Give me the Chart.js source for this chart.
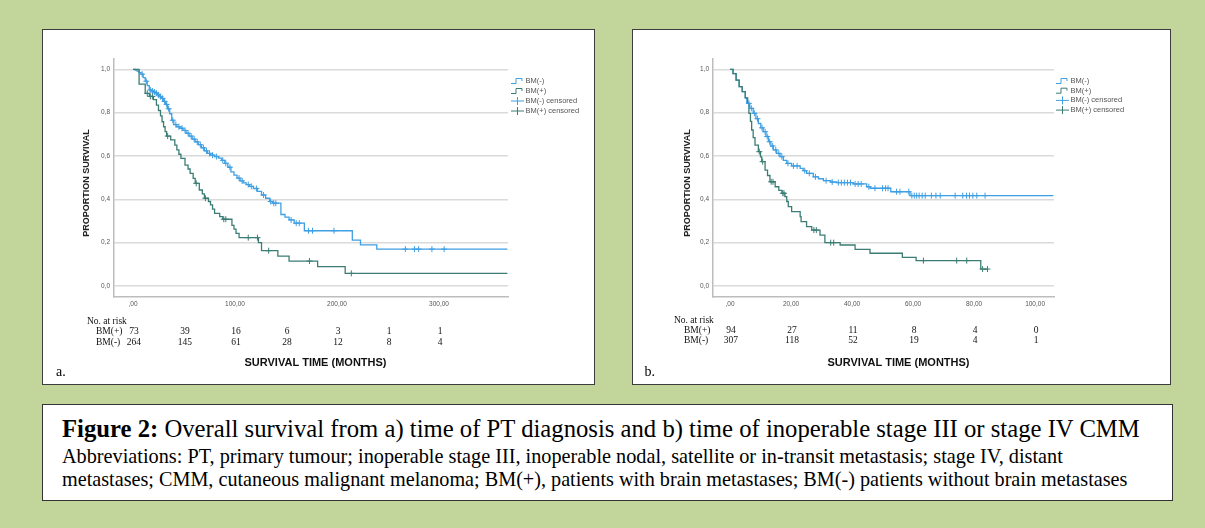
<!DOCTYPE html>
<html>
<head>
<meta charset="utf-8">
<title>Overall survival BM(+) / BM(-)</title>
<script src="https://cdn.jsdelivr.net/npm/chart.js@4.4.1/dist/chart.umd.min.js"></script>
<style>
  html, body { margin: 0; padding: 0; }
  body { width: 1205px; height: 528px; background: #c2d69b; position: relative; overflow: hidden; }
  .panel { position: absolute; top: 29px; height: 356px; background: #fff; border: 1px solid #3d3d3d; box-sizing: border-box; }
  #panelA { left: 42px; width: 553px; }
  #panelB { left: 632px; width: 539px; }
  .panel canvas { position: absolute; left: 0; top: 0; }
  #caption { position: absolute; left: 42px; top: 404px; width: 1131px; height: 97px; background: #fff; border: 1px solid #333; box-sizing: border-box;
             font-family: 'Liberation Serif', 'Times New Roman', serif; color: #000; }
  #caption div { position: absolute; left: 19px; white-space: nowrap; }
  .cap1 { top: 10px; font-size: 24.7px; line-height: 28px; }
  .cap2 { top: 39.5px; font-size: 20.25px; line-height: 23px; }
  .cap3 { top: 62.5px; font-size: 20.2px; line-height: 23px; }
</style>
</head>
<body>
<div class="panel" id="panelA"><canvas id="chartA" width="551" height="354"></canvas></div>
<div class="panel" id="panelB"><canvas id="chartB" width="537" height="354"></canvas></div>
<div id="caption">
  <div class="cap1"><b>Figure 2:</b> Overall survival from a) time of PT diagnosis and b) time of inoperable stage III or stage IV CMM</div>
  <div class="cap2">Abbreviations: PT, primary tumour; inoperable stage III, inoperable nodal, satellite or in-transit metastasis; stage IV, distant</div>
  <div class="cap3">metastases; CMM, cutaneous malignant melanoma; BM(+), patients with brain metastases; BM(-) patients without brain metastases</div>
</div>

<script>
// shared y axis
const survTicks = [0, 0.2, 0.4, 0.6, 0.8, 1.0];
const survLabels = ['0,0', '0,2', '0,4', '0,6', '0,8', '1,0'];
const seriesNames = ['BM(-)', 'BM(+)', 'BM(-) censored', 'BM(+) censored'];

// panel a: from time of PT diagnosis  [months, proportion surviving]
const aTimeTicks = [0, 100, 200, 300];
const aTimeLabels = [',00', '100,00', '200,00', '300,00'];
const aRiskTimes = [0, 50, 100, 150, 200, 250, 300];
const aRiskPlus = [73, 39, 16, 6, 3, 1, 1];
const aRiskMinus = [264, 145, 61, 28, 12, 8, 4];

const aMinus = [[0,1],[2,0.996],[4,0.992],[6,0.985],[8,0.978],[10,0.962],[12,0.945],[14,0.925],[16,0.905],[18,0.9],
  [20,0.895],[22,0.89],[24,0.882],[26,0.874],[28,0.866],[30,0.852],[32,0.838],[34,0.818],[36,0.795],[38,0.765],
  [40,0.745],[43,0.735],[46,0.728],[49,0.718],[52,0.705],[55,0.692],[58,0.678],[61,0.665],[64,0.652],[67,0.638],
  [70,0.624],[73,0.612],[76,0.604],[80,0.597],[84,0.59],[87,0.58],[90,0.566],[93,0.548],[96,0.527],[99,0.512],
  [102,0.498],[105,0.485],[108,0.476],[111,0.468],[114,0.46],[118,0.45],[122,0.437],[126,0.42],[130,0.405],[134,0.39],
  [137,0.382],[145,0.33],[149,0.318],[153,0.305],[158,0.29],[168,0.255],[215,0.212],[223,0.19],[239,0.17],[367,0.17]];
const aMinusCens = [[9,0.978],[13,0.945],[17,0.905],[19,0.9],[21,0.895],[23,0.89],[25,0.882],[27,0.874],[29,0.866],[31,0.852],
  [33,0.838],[35,0.818],[39,0.765],[42,0.745],[45,0.735],[48,0.728],[51,0.718],[54,0.705],[57,0.692],[60,0.678],
  [63,0.665],[66,0.652],[69,0.638],[72,0.624],[75,0.612],[78,0.604],[82,0.597],[88,0.58],[91,0.566],[95,0.548],
  [104,0.498],[107,0.485],[113,0.468],[116,0.46],[121,0.45],[128,0.42],[135,0.39],[138,0.382],[140,0.382],[155,0.305],
  [160,0.29],[163,0.29],[172,0.255],[176,0.255],[197,0.255],[267,0.17],[276,0.17],[280,0.17],[293,0.17],[305,0.17]];
const aPlus = [[0,1],[6,0.932],[12,0.889],[16,0.875],[20,0.86],[23,0.835],[25,0.81],[27,0.785],[28.5,0.758],[30,0.735],
  [31.5,0.712],[33,0.692],[37,0.674],[41,0.65],[43,0.628],[45,0.608],[47,0.589],[51,0.558],[54,0.54],[56,0.52],
  [59,0.497],[61,0.474],[65,0.443],[68,0.425],[70,0.405],[74,0.39],[76,0.374],[78,0.355],[80,0.335],[85,0.32],
  [88,0.308],[97,0.28],[99,0.262],[101,0.243],[104,0.223],[123,0.2],[126,0.163],[142,0.138],[153,0.115],[181,0.089],
  [208,0.058],[367,0.058]];
const aPlusCens = [[14,0.889],[17,0.875],[19,0.875],[34,0.692],[62,0.474],[71,0.405],[89,0.308],[91,0.308],[113,0.223],
  [122,0.223],[133,0.163],[173,0.115],[214,0.058]];

// panel b: from time of inoperable stage III / stage IV
const bTimeTicks = [0, 20, 40, 60, 80, 100];
const bTimeLabels = [',00', '20,00', '40,00', '60,00', '80,00', '100,00'];
const bRiskTimes = [0, 20, 40, 60, 80, 100];
const bRiskPlus = [94, 27, 11, 8, 4, 0];
const bRiskMinus = [307, 118, 52, 19, 4, 1];

const bMinus = [[0,1],[1,0.98],[2,0.95],[3,0.92],[4,0.897],[5,0.868],[5.5,0.843],[6.5,0.82],[7.6,0.797],[8.5,0.772],
  [9.3,0.75],[10.1,0.73],[10.9,0.712],[11.8,0.69],[12.6,0.666],[13.4,0.646],[14.2,0.628],[15.3,0.612],[16.4,0.597],[17.5,0.58],
  [18.6,0.566],[20.2,0.554],[23,0.543],[24,0.532],[25.1,0.52],[27.3,0.504],[29,0.495],[30.6,0.486],[33,0.48],[35,0.477],
  [40.4,0.471],[44.8,0.458],[46,0.451],[52.7,0.435],[59,0.417],[106,0.417]];
const bMinusCens = [[6.2,0.843],[7,0.82],[8,0.797],[9,0.772],[10.5,0.73],[11.5,0.712],[12.2,0.69],[13,0.666],[14,0.646],[15,0.628],
  [16,0.612],[17,0.597],[19,0.566],[20.8,0.554],[22,0.554],[24.5,0.532],[26,0.52],[28,0.504],[31.5,0.486],[33.5,0.48],
  [35.5,0.477],[36.5,0.477],[37.5,0.477],[38.5,0.477],[39.5,0.477],[41,0.471],[42,0.471],[43,0.471],[45.5,0.458],[47.5,0.451],
  [50,0.451],[51,0.451],[51.8,0.451],[54.6,0.435],[55.7,0.435],[58.6,0.435],[59.6,0.417],[60.4,0.417],[61.2,0.417],[62,0.417],
  [63,0.417],[64,0.417],[66,0.417],[67.5,0.417],[68.9,0.417],[73.8,0.417],[76.3,0.417],[77.5,0.417],[78.5,0.417],[79.6,0.417],
  [80.9,0.417],[83.6,0.417]];
const bPlus = [[0,1],[1,0.98],[2,0.95],[3,0.92],[4,0.897],[5,0.868],[5.8,0.843],[6.2,0.797],[6.7,0.76],[7.1,0.72],
  [7.6,0.685],[8.2,0.65],[9.3,0.62],[10,0.596],[10.4,0.574],[11.5,0.535],[12.3,0.51],[13.1,0.481],[14.8,0.458],[16,0.441],
  [17,0.428],[18,0.412],[18.6,0.39],[19.1,0.366],[20.2,0.343],[23,0.32],[23.3,0.297],[25.1,0.274],[26.8,0.258],[29.5,0.235],
  [31.1,0.2],[36.1,0.189],[41,0.169],[45.9,0.151],[56.5,0.132],[61,0.117],[82.2,0.078],[84.4,0.078]];
const bPlusCens = [[9.6,0.62],[10.7,0.574],[13.5,0.481],[14.1,0.481],[17.3,0.428],[17.7,0.428],[27.5,0.258],[28.3,0.258],
  [33,0.2],[34,0.2],[63.4,0.117],[74.3,0.117],[77.6,0.117],[82.8,0.078],[84.4,0.078]];

const BLUE = '#3f9fe3';
const TEAL = '#3b7d75';
const SANS = "'Liberation Sans', Arial, sans-serif";
const SERIF = "'Liberation Serif', 'Times New Roman', serif";

// draws legend, axis titles, number-at-risk table and the panel letter
const extras = {
  id: 'extras',
  afterDraw(chart, args, o) {
    const ctx = chart.ctx, area = chart.chartArea, xs = chart.scales.x;
    const W = chart.width;
    ctx.save();

    // legend
    const colors = [BLUE, TEAL, BLUE, TEAL];
    ctx.font = '7.5px ' + SANS;
    ctx.textBaseline = 'middle';
    ctx.textAlign = 'left';
    seriesNames.forEach((name, i) => {
      const gx = area.right + o.legendDx, gy = area.top + 22.5 + i * o.legendStep;
      ctx.strokeStyle = colors[i];
      ctx.lineWidth = 1;
      ctx.beginPath();
      if (i < 2) {
        ctx.moveTo(gx, gy + 2.5); ctx.lineTo(gx + 5, gy + 2.5); ctx.lineTo(gx + 5, gy - 2.5);
        ctx.lineTo(gx + 11, gy - 2.5); ctx.lineTo(gx + 11, gy);
      } else {
        ctx.moveTo(gx, gy); ctx.lineTo(gx + 13, gy);
        ctx.moveTo(gx + 6.5, gy - 4); ctx.lineTo(gx + 6.5, gy + 4);
      }
      ctx.stroke();
      ctx.fillStyle = '#555';
      ctx.fillText(name, gx + 14.5, gy);
    });

    // y axis title
    ctx.save();
    ctx.translate(area.left - o.yTitleGap, 153);
    ctx.rotate(-Math.PI / 2);
    ctx.font = 'bold 9px ' + SANS;
    ctx.fillStyle = '#222';
    ctx.textAlign = 'center';
    ctx.fillText('PROPORTION SURVIVAL', 0, 0);
    ctx.restore();

    // number at risk
    ctx.fillStyle = '#111';
    ctx.font = '9.5px ' + SERIF;
    ctx.textAlign = 'left';
    ctx.fillText('No. at risk', o.riskTitleX, o.riskY[0]);
    ctx.fillText('BM(+)', o.rowLabelX, o.riskY[1]);
    ctx.fillText('BM(-)', o.rowLabelX, o.riskY[2]);
    ctx.textAlign = 'center';
    o.riskTimes.forEach((t, i) => {
      const px = xs.getPixelForValue(t);
      ctx.fillText(String(o.riskPlus[i]), px + 1, o.riskY[1]);
      ctx.fillText(String(o.riskMinus[i]), px + 1, o.riskY[2]);
    });

    // x axis title
    ctx.font = 'bold 11px ' + SANS;
    ctx.fillStyle = '#111';
    ctx.fillText('SURVIVAL TIME (MONTHS)', W / 2 - 3, 333);

    // panel letter
    ctx.font = '14px ' + SERIF;
    ctx.textAlign = 'left';
    ctx.fillStyle = '#000';
    ctx.fillText(o.letter, o.letterX, 342);
    ctx.restore();
  }
};

function makeChart(id, cfg) {
  const lineDs = (label, data, color) => ({
    label, data, borderColor: color, borderWidth: 1.3, stepped: 'before',
    pointRadius: 0, fill: false, tension: 0
  });
  const censDs = (label, data, color) => ({
    label, data, showLine: false, pointStyle: 'cross', pointRadius: 3,
    pointBorderColor: color, pointBackgroundColor: color, pointBorderWidth: 1
  });
  return new Chart(document.getElementById(id), {
    type: 'line',
    data: {
      datasets: [
        censDs('BM(+) censored', cfg.plusCens, TEAL),
        censDs('BM(-) censored', cfg.minusCens, BLUE),
        lineDs('BM(+)', cfg.plus, TEAL),
        lineDs('BM(-)', cfg.minus, BLUE)
      ]
    },
    options: {
      responsive: false,
      animation: false,
      events: [],
      layout: { padding: { left: 0, top: 28.5, right: cfg.padRight, bottom: 67.2 } },
      scales: {
        x: {
          type: 'linear', min: cfg.xMin, max: cfg.xMax,
          afterBuildTicks: s => { s.ticks = cfg.xTicks.map(v => ({ value: v })); },
          afterFit: s => { s.height = 20; },
          ticks: {
            autoSkip: false, maxRotation: 0, padding: 4, color: '#555',
            font: { family: SANS, size: 6.5 },
            callback: (v, i) => cfg.xLabels[i]
          },
          grid: { display: false, drawTicks: false },
          border: { display: true, color: '#bdbdbd', width: 1.5 }
        },
        y: {
          type: 'linear', min: -0.05, max: 1.05,
          afterBuildTicks: s => { s.ticks = survTicks.map(v => ({ value: v })); },
          afterFit: s => { s.width = cfg.axisLeft; },
          ticks: {
            padding: 4, color: '#555',
            font: { family: SANS, size: 6.5 },
            callback: (v, i) => survLabels[i]
          },
          grid: { color: '#dadada', lineWidth: 1.5, drawTicks: false },
          border: { display: true, color: '#bdbdbd', width: 1.5 }
        }
      },
      plugins: {
        legend: { display: false },
        tooltip: { enabled: false },
        extras: cfg.extras
      }
    },
    plugins: [extras]
  });
}

makeChart('chartA', {
  minus: aMinus, minusCens: aMinusCens, plus: aPlus, plusCens: aPlusCens,
  xMin: -18.6, xMax: 367.6, xTicks: aTimeTicks, xLabels: aTimeLabels,
  axisLeft: 71, padRight: 86,
  extras: {
    letter: 'a.', letterX: 13, legendDx: 3, legendStep: 10, yTitleGap: 27,
    riskTitleX: 44, rowLabelX: 53, riskY: [291.5, 301.5, 312],
    riskTimes: aRiskTimes, riskPlus: aRiskPlus, riskMinus: aRiskMinus
  }
});

makeChart('chartB', {
  minus: bMinus, minusCens: bMinusCens, plus: bPlus, plusCens: bPlusCens,
  xMin: -5.57, xMax: 106.2, xTicks: bTimeTicks, xLabels: bTimeLabels,
  axisLeft: 80, padRight: 116,
  extras: {
    letter: 'b.', letterX: 11.5, legendDx: 2, legendStep: 9.7, yTitleGap: 25,
    riskTitleX: 41, rowLabelX: 51, riskY: [290, 300, 310],
    riskTimes: bRiskTimes, riskPlus: bRiskPlus, riskMinus: bRiskMinus
  }
});
</script>
</body>
</html>
